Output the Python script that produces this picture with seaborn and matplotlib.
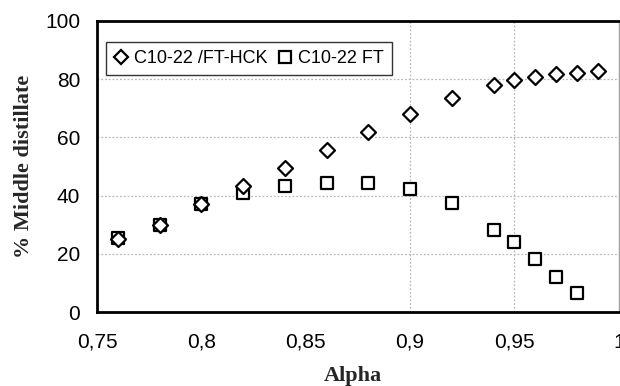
import matplotlib
matplotlib.use("Agg")
import matplotlib.pyplot as plt
from matplotlib.lines import Line2D
import seaborn as sns
import pandas as pd

# Chain-growth probability and middle-distillate yield (%)
alpha_hck = [0.76, 0.78, 0.80, 0.82, 0.84, 0.86, 0.88, 0.90, 0.92, 0.94, 0.95, 0.96, 0.97, 0.98, 0.99]
md_hck = [25.2, 30.0, 37.2, 43.4, 49.4, 55.5, 61.9, 68.1, 73.4, 78.1, 79.7, 80.8, 81.9, 82.3, 82.9]

alpha_ft = [0.76, 0.78, 0.80, 0.82, 0.84, 0.86, 0.88, 0.90, 0.92, 0.94, 0.95, 0.96, 0.97, 0.98]
md_ft = [25.5, 30.0, 37.0, 41.0, 43.4, 44.4, 44.4, 42.4, 37.5, 28.3, 23.9, 18.2, 11.9, 6.7]

series_names = ["C10-22 /FT-HCK", "C10-22 FT"]
x_ticks = [0.75, 0.80, 0.85, 0.90, 0.95, 1.00]
x_tick_labels = ["0,75", "0,8", "0,85", "0,9", "0,95", "1"]
y_ticks = [0, 20, 40, 60, 80, 100]

sns.set_theme(style="white")
plt.rcParams["font.family"] = ["Liberation Sans", "DejaVu Sans"]

fig = plt.figure(figsize=(6.2, 3.86), dpi=100)
ax = fig.add_axes([0.1565, 0.1917, 0.8415, 0.7539])

df_ft = pd.DataFrame({"alpha": alpha_ft, "md": md_ft})
df_hck = pd.DataFrame({"alpha": alpha_hck, "md": md_hck})

sns.scatterplot(data=df_ft, x="alpha", y="md", ax=ax, marker="s", s=64,
                facecolor="white", edgecolor="black", linewidth=1.6, zorder=3)
sns.scatterplot(data=df_hck, x="alpha", y="md", ax=ax, marker="D", s=58,
                facecolor="white", edgecolor="black", linewidth=1.6, zorder=4)

ax.set_xlim(0.75, 1.0)
ax.set_ylim(0, 100)

# dotted reference grid
for yv in [20, 40, 60, 80]:
    ax.axhline(yv, color="#b8b8b8", linestyle=(0, (1.5, 1.5)), linewidth=0.9, zorder=1)
for xv in [0.90, 0.95]:
    ax.axvline(xv, color="#b8b8b8", linestyle=(0, (1.5, 1.5)), linewidth=0.9, zorder=1)

ax.set_xticks(x_ticks)
ax.set_xticklabels(x_tick_labels)
ax.set_xticks([0.75 + 0.01 * i for i in range(26)], minor=True)
ax.set_yticks(y_ticks)
ax.set_yticks(list(range(0, 101, 4)), minor=True)

ax.tick_params(axis="both", which="both", direction="in", length=4, width=1,
               color="black", labelsize=15, labelcolor="black")
ax.tick_params(axis="x", which="both", pad=15, top=False)
ax.tick_params(axis="y", which="both", pad=12, right=False)

for side in ["left", "bottom", "top"]:
    ax.spines[side].set_color("black")
    ax.spines[side].set_linewidth(2)
ax.spines["right"].set_color("#a0a0a0")
ax.spines["right"].set_linewidth(1)

ax.set_xlabel("Alpha", fontsize=16, fontweight="bold",
              family=["Liberation Serif", "DejaVu Serif"], labelpad=12)
ax.xaxis.set_label_coords(0.49, -0.185)
ax.set_ylabel("% Middle distillate", fontsize=16, fontweight="bold",
              family=["Liberation Serif", "DejaVu Serif"], labelpad=8)

handles = [
    Line2D([], [], linestyle="none", marker="D", markersize=7, markerfacecolor="white",
           markeredgecolor="black", markeredgewidth=1.6),
    Line2D([], [], linestyle="none", marker="s", markersize=8, markerfacecolor="white",
           markeredgecolor="black", markeredgewidth=1.6),
]
leg = ax.legend(handles, series_names, loc="upper left", bbox_to_anchor=(0.017, 0.928),
                ncol=2, frameon=True, fancybox=False, fontsize=13,
                handlelength=0.8, handletextpad=0.3, columnspacing=0.6,
                borderpad=0.45, borderaxespad=0)
leg.get_frame().set_edgecolor("black")
leg.get_frame().set_linewidth(1)
for t in leg.get_texts():
    t.set_color("black")

fig.savefig("out.png", dpi=100, facecolor="white")
